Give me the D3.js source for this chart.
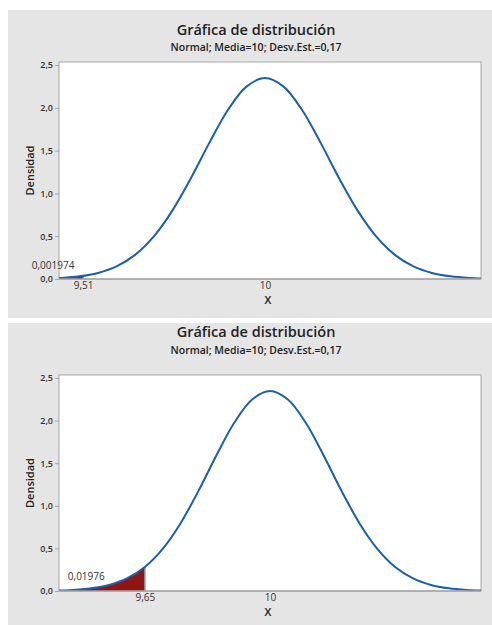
<!DOCTYPE html>
<html>
<head>
<meta charset="utf-8">
<script src="https://cdn.jsdelivr.net/npm/d3@7"></script>
<style>
  body { margin: 0; background: #fff; }
  svg { display: block; font-family: "Open Sans", "Noto Sans", sans-serif; }
</style>
</head>
<body>
<div id="vis"></div>
<script>
// datos (Normal; media 10, desv. est. 0,17)
const X_VALUES = [9.40, 9.45, 9.50, 9.55, 9.60, 9.65, 9.70, 9.75, 9.80, 9.85, 9.90, 9.95,
  10.00, 10.05, 10.10, 10.15, 10.20, 10.25, 10.30, 10.35, 10.40, 10.45, 10.50, 10.55, 10.60];
const DENSITY = [0.0046, 0.0125, 0.031, 0.071, 0.147, 0.282, 0.495, 0.796, 1.175, 1.590, 1.974, 2.247,
  2.347, 2.247, 1.974, 1.590, 1.175, 0.796, 0.495, 0.282, 0.147, 0.071, 0.031, 0.0125, 0.0046];
const Y_TICKS = [0, 0.5, 1, 1.5, 2, 2.5];
const CUTOFFS = [9.51, 9.65];
const CUTOFF_DENSITY = [0.037, 0.282];
const AREA_LABELS = ["0,001974", "0,01976"];
const X_DOMAINS = [[9.445, 10.582], [9.41, 10.59]];
const TITLE = "Gráfica de distribución";
const SUBTITLE = "Normal; Media=10; Desv.Est.=0,17";

const WIDTH = 492;
const HEIGHT = 625;

// posiciones de cada panel
const PANELS = [
  { top: 10, bottom: 318, titleY: 35, subY: 51, plotTop: 62, y0: 279, y25: 65 },
  { top: 323, bottom: 625, titleY: 337, subY: 354, plotTop: 375, y0: 591, y25: 378 },
];
const PLOT_LEFT = 59;
const PLOT_RIGHT = 481;

const locale = d3.formatLocale({ decimal: ",", thousands: ".", grouping: [3], currency: ["", ""] });
const fmt1 = locale.format(".1f");

const svg = d3.select("#vis").append("svg").attr("width", WIDTH).attr("height", HEIGHT);

const points = X_VALUES.map((x, i) => ({ x: x, y: DENSITY[i] }));

PANELS.forEach((p, i) => drawPanel(p, i));

function drawPanel(p, i) {
  const g = svg.append("g");

  g.append("rect")
    .attr("x", 8).attr("y", p.top)
    .attr("width", WIDTH - 8).attr("height", p.bottom - p.top)
    .attr("fill", "#e5e5e5");

  const x = d3.scaleLinear().domain(X_DOMAINS[i]).range([PLOT_LEFT, PLOT_RIGHT]);
  const y = d3.scaleLinear().domain([0, 2.5]).range([p.y0, p.y25]);

  g.append("rect")
    .attr("x", PLOT_LEFT).attr("y", p.plotTop)
    .attr("width", PLOT_RIGHT - PLOT_LEFT).attr("height", p.y0 - p.plotTop)
    .attr("fill", "#fff")
    .attr("stroke", "#a6a6a6");

  const clipId = "clip" + i;
  g.append("clipPath").attr("id", clipId)
    .append("rect")
    .attr("x", PLOT_LEFT).attr("y", p.plotTop)
    .attr("width", PLOT_RIGHT - PLOT_LEFT).attr("height", p.y0 - p.plotTop);

  const plot = g.append("g").attr("clip-path", `url(#${clipId})`);

  // area sombreada bajo la cola izquierda
  const shaded = points.filter(d => d.x < CUTOFFS[i]).concat([{ x: CUTOFFS[i], y: CUTOFF_DENSITY[i] }]);
  const area = d3.area()
    .x(d => x(d.x)).y0(y(0)).y1(d => y(d.y))
    .curve(d3.curveCatmullRom);
  plot.append("path").datum(shaded)
    .attr("d", area)
    .attr("fill", "#921515");
  plot.append("line")
    .attr("x1", x(CUTOFFS[i])).attr("x2", x(CUTOFFS[i]))
    .attr("y1", y(0)).attr("y2", y(CUTOFF_DENSITY[i]))
    .attr("stroke", "#8c8c8c").attr("stroke-width", 1.5);

  const line = d3.line().x(d => x(d.x)).y(d => y(d.y)).curve(d3.curveCatmullRom);
  plot.append("path").datum(points)
    .attr("d", line)
    .attr("fill", "none")
    .attr("stroke", "#1a5fb0")
    .attr("stroke-width", 2);

  // ejes
  const yAxis = d3.axisLeft(y).tickValues(Y_TICKS).tickFormat(fmt1).tickSize(4).tickPadding(2);
  const ya = g.append("g").attr("transform", `translate(${PLOT_LEFT},0)`).call(yAxis);
  ya.select(".domain").remove();
  ya.selectAll(".tick line").attr("stroke", "#a6a6a6");
  ya.selectAll(".tick text")
    .attr("font-size", 9).attr("font-weight", 600).attr("fill", "#333")
    .attr("font-family", "Open Sans, Noto Sans, sans-serif");

  g.append("line")
    .attr("x1", PLOT_LEFT).attr("x2", PLOT_RIGHT)
    .attr("y1", y(0)).attr("y2", y(0))
    .attr("stroke", "#a6a6a6").attr("stroke-width", 1.5);

  const xTicks = [CUTOFFS[i], 10];
  const xa = g.append("g").attr("transform", `translate(0,${y(0)})`)
    .call(d3.axisBottom(x).tickValues(xTicks).tickFormat(d => locale.format("")(d)).tickSize(0).tickPadding(3));
  xa.select(".domain").remove();
  xa.selectAll(".tick text")
    .attr("font-size", 10).attr("fill", "#333")
    .attr("font-family", "Open Sans, Noto Sans, sans-serif");

  // textos
  const cx = 256;
  g.append("text").attr("x", cx).attr("y", p.titleY)
    .attr("text-anchor", "middle").attr("font-size", 14.5).attr("font-weight", 600)
    .attr("fill", "#222").text(TITLE);
  g.append("text").attr("x", cx).attr("y", p.subY)
    .attr("text-anchor", "middle").attr("font-size", 10.5).attr("font-weight", 600)
    .attr("fill", "#222").text(SUBTITLE);

  g.append("text")
    .attr("transform", `translate(34,${(p.plotTop + p.y0) / 2}) rotate(-90)`)
    .attr("text-anchor", "middle").attr("font-size", 11).attr("font-weight", 600)
    .attr("fill", "#222").text("Densidad");

  g.append("text").attr("x", (PLOT_LEFT + PLOT_RIGHT) / 2 - 2).attr("y", p.y0 + 25)
    .attr("text-anchor", "middle").attr("font-size", 11).attr("font-weight", 600)
    .attr("fill", "#222").text("X");

  const labelX = i === 0 ? x(CUTOFFS[i]) - 30 : x(CUTOFFS[i]) - 77;
  g.append("text").attr("x", labelX).attr("y", y(0) - (i === 0 ? 10 : 11))
    .attr("text-anchor", i === 0 ? "middle" : "start").attr("font-size", 10)
    .attr("fill", "#333").text(AREA_LABELS[i]);
}
</script>
</body>
</html>
